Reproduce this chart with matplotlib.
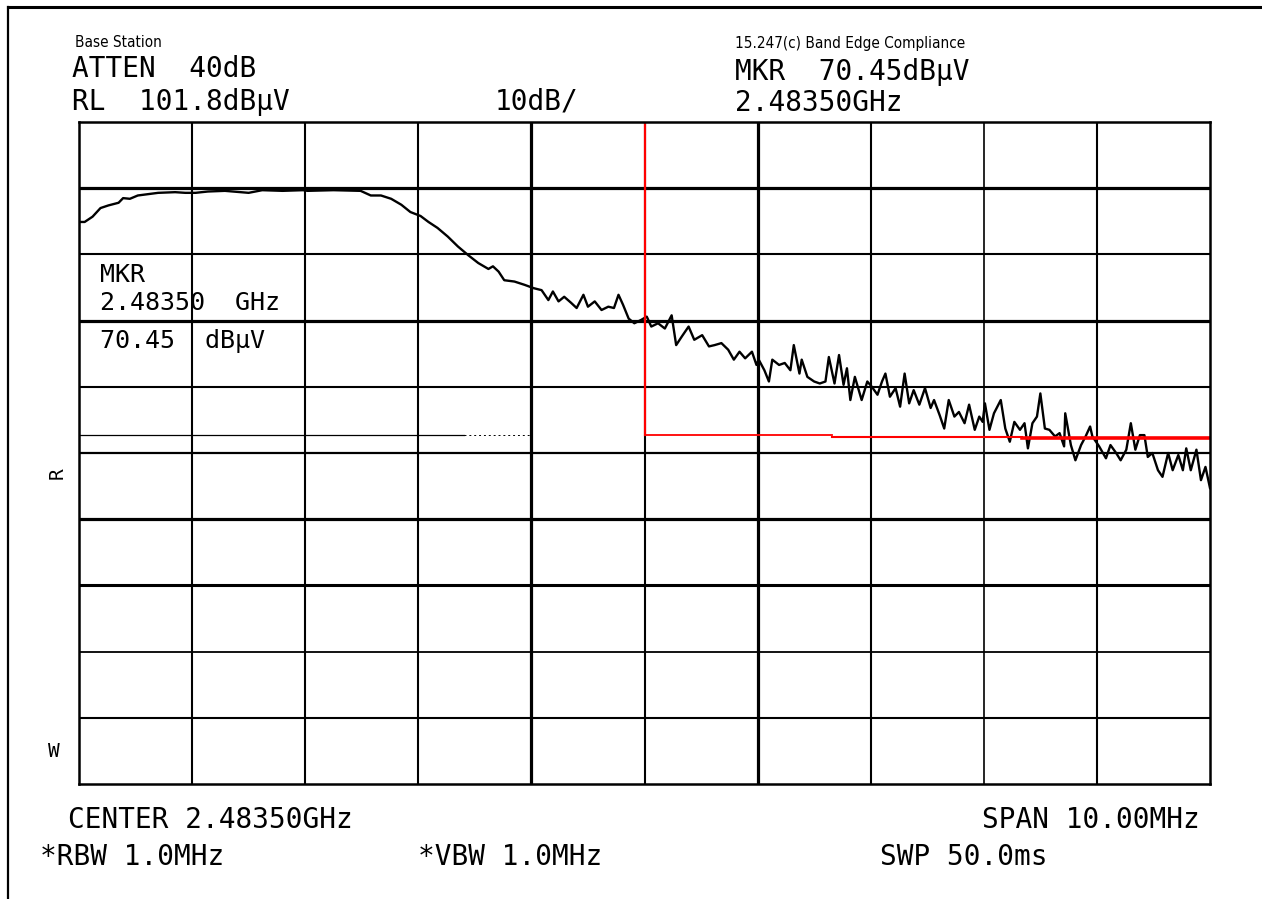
import matplotlib
matplotlib.use("Agg")
import matplotlib.pyplot as plt
from matplotlib.lines import Line2D

# trace: frequency (MHz) and level (dBuV)
freq_mhz = [
    2478.51, 2478.55, 2478.62, 2478.69, 2478.76, 2478.85, 2478.89, 2478.95, 2479.02, 2479.11,
    2479.20, 2479.35, 2479.44, 2479.53, 2479.64, 2479.79, 2480.00, 2480.12, 2480.30, 2480.48,
    2480.52, 2480.75, 2480.99, 2481.08, 2481.17, 2481.26, 2481.35, 2481.43, 2481.52, 2481.59,
    2481.67, 2481.76, 2481.85, 2481.94, 2482.03, 2482.12, 2482.16, 2482.21, 2482.26, 2482.35,
    2482.44, 2482.52, 2482.59, 2482.65, 2482.69, 2482.74, 2482.79, 2482.85, 2482.90, 2482.96,
    2483.00, 2483.06, 2483.12, 2483.18, 2483.23, 2483.27, 2483.31, 2483.36, 2483.41, 2483.47,
    2483.52, 2483.56, 2483.62, 2483.68, 2483.74, 2483.78, 2483.83, 2483.89, 2483.94, 2484.01,
    2484.07, 2484.12, 2484.18, 2484.24, 2484.29, 2484.34, 2484.39, 2484.45, 2484.49, 2484.51,
    2484.56, 2484.60, 2484.63, 2484.69, 2484.74, 2484.79, 2484.82, 2484.87, 2484.89, 2484.94,
    2485.00, 2485.05, 2485.10, 2485.13, 2485.18, 2485.22, 2485.26, 2485.29, 2485.32, 2485.36,
    2485.42, 2485.47, 2485.51, 2485.56, 2485.60, 2485.63, 2485.67, 2485.72, 2485.76, 2485.80,
    2485.84, 2485.88, 2485.93, 2485.98, 2486.03, 2486.06, 2486.11, 2486.15, 2486.19, 2486.24,
    2486.28, 2486.33, 2486.37, 2486.42, 2486.46, 2486.49, 2486.51, 2486.55, 2486.59, 2486.65,
    2486.69, 2486.73, 2486.77, 2486.82, 2486.86, 2486.89, 2486.93, 2486.97, 2487.00, 2487.04,
    2487.08, 2487.13, 2487.17, 2487.21, 2487.22, 2487.27, 2487.31, 2487.36, 2487.40, 2487.44,
    2487.46, 2487.52, 2487.58, 2487.62, 2487.67, 2487.71, 2487.76, 2487.80, 2487.84, 2487.88,
    2487.92, 2487.95, 2487.99, 2488.04, 2488.08, 2488.13, 2488.17, 2488.22, 2488.26, 2488.29,
    2488.33, 2488.38, 2488.42, 2488.46, 2488.50,
]
level_dbuv = [
    86.7, 86.7, 87.5, 88.8, 89.2, 89.6, 90.3, 90.2, 90.7, 90.9,
    91.1, 91.2, 91.1, 91.1, 91.3, 91.4, 91.1, 91.5, 91.4, 91.5,
    91.4, 91.5, 91.4, 90.7, 90.7, 90.2, 89.3, 88.2, 87.6, 86.7,
    85.8, 84.5, 83.0, 81.7, 80.5, 79.6, 80.0, 79.2, 77.9, 77.7,
    77.2, 76.7, 76.4, 74.9, 76.2, 74.7, 75.4, 74.5, 73.7, 75.7,
    73.9, 74.7, 73.4, 73.9, 73.7, 75.7, 74.2, 72.1, 71.4, 71.9,
    72.4, 70.9, 71.4, 70.6, 72.6, 68.1, 69.4, 70.9, 68.9, 69.6,
    67.9, 68.1, 68.4, 67.4, 65.9, 67.1, 66.1, 67.1, 65.1, 65.9,
    64.3, 62.6, 65.9, 65.1, 65.4, 64.3, 68.1, 63.8, 65.9, 63.3,
    62.6, 62.3, 62.6, 66.3, 62.3, 66.6, 62.1, 64.6, 59.8, 63.3,
    59.8, 62.6, 61.8, 60.6, 62.6, 63.8, 60.3, 61.6, 58.8, 63.8,
    59.3, 61.3, 59.1, 61.6, 58.6, 59.8, 57.5, 55.5, 59.8, 57.3,
    58.0, 56.3, 59.1, 55.3, 57.3, 56.5, 59.3, 55.3, 57.8, 59.8,
    55.5, 53.5, 56.5, 55.3, 56.3, 52.5, 56.3, 57.3, 60.8, 55.5,
    55.3, 54.3, 54.8, 52.8, 57.8, 53.0, 50.7, 53.0, 54.3, 55.8,
    54.3, 52.8, 51.0, 53.0, 51.8, 50.7, 52.3, 56.3, 52.3, 54.5,
    54.5, 51.2, 51.8, 49.2, 48.2, 51.8, 49.2, 51.5, 49.2, 52.5,
    49.2, 52.3, 47.7, 49.7, 46.5,
]

center_mhz = 2483.5
span_mhz = 10.0
ref_level = 101.8
db_per_div = 10

# red limit line segments (start, end, level)
limit_start = [2483.5, 2485.16, 2486.84]
limit_end = [2485.16, 2486.84, 2488.5]
limit_level = [54.5, 54.2, 54.1]

W, H = 1262, 899
fig = plt.figure(figsize=(W / 100, H / 100), dpi=100)
ax = fig.add_axes([79 / W, 1 - 784 / H, 1131 / W, 662 / H])

x0 = center_mhz - span_mhz / 2
x1 = center_mhz + span_mhz / 2
y1 = ref_level
y0 = ref_level - 10 * db_per_div
ax.set_xlim(x0, x1)
ax.set_ylim(y0, y1)
ax.set_xticks([])
ax.set_yticks([])
for s in ax.spines.values():
    s.set_linewidth(1.8)

# printout grid: some lines came out heavier than others
vw = [0, 1.5, 1.5, 1.5, 2.3, 1.5, 2.3, 1.5, 1.2, 1.5]
hw = [0, 2.3, 1.5, 2.3, 1.5, 1.6, 2.3, 2.2, 1.3, 1.5]
for i in range(1, 10):
    ax.axvline(x0 + i * span_mhz / 10, color="black", lw=vw[i])
    ax.axhline(y1 - i * db_per_div, color="black", lw=hw[i])

# faint display line on the left
ax.plot([x0, 2481.9], [54.5, 54.5], color="black", lw=0.9)
ax.plot([2481.9, 2482.5], [54.5, 54.5], color="black", lw=0.7, ls=(0, (2, 3)))

ax.plot(freq_mhz, level_dbuv, color="black", lw=1.7)

# limit markers
ax.plot([center_mhz, center_mhz], [y1, limit_level[0]], color="#ff0000", lw=1.6)
for a, b, lv, lw in zip(limit_start, limit_end, limit_level, [1.3, 1.5, 2.6]):
    ax.plot([a, b], [lv, lv], color="#ff0000", lw=lw)

# page border
fig.add_artist(Line2D([8 / W, 1], [1 - 7 / H, 1 - 7 / H], color="black", lw=2.2))
fig.add_artist(Line2D([8 / W, 8 / W], [0, 1 - 7 / H], color="black", lw=1.6))


def put(x, y, s, size=20, **kw):
    kw.setdefault("family", "DejaVu Sans Mono")
    fig.text(x / W, 1 - y / H, s, fontsize=size, va="baseline", **kw)


put(75, 47, "Base Station", size=11, family="DejaVu Sans", fontstretch="condensed")
put(72, 77, "ATTEN  40dB")
put(72, 110, "RL  101.8dBµV")
put(495, 110, "10dB/")
put(735, 48, "15.247(c) Band Edge Compliance", size=11, family="DejaVu Sans",
    fontstretch="condensed")
put(735, 80, "MKR  70.45dBµV")
put(735, 111, "2.48350GHz")

put(100, 282, "MKR", size=18)
put(100, 310, "2.48350  GHz", size=18)
put(100, 348, "70.45  dBµV", size=18)

fig.text(57 / W, 1 - 473 / H, "R", fontsize=14, rotation=90, ha="center", va="center",
         family="DejaVu Sans Mono")
put(48, 757, "W", size=14)

put(68, 828, "CENTER 2.48350GHz")
put(1200, 828, "SPAN 10.00MHz", ha="right")
put(40, 865, "*RBW 1.0MHz")
put(418, 865, "*VBW 1.0MHz")
put(880, 865, "SWP 50.0ms")

fig.savefig("out.png", dpi=100)
